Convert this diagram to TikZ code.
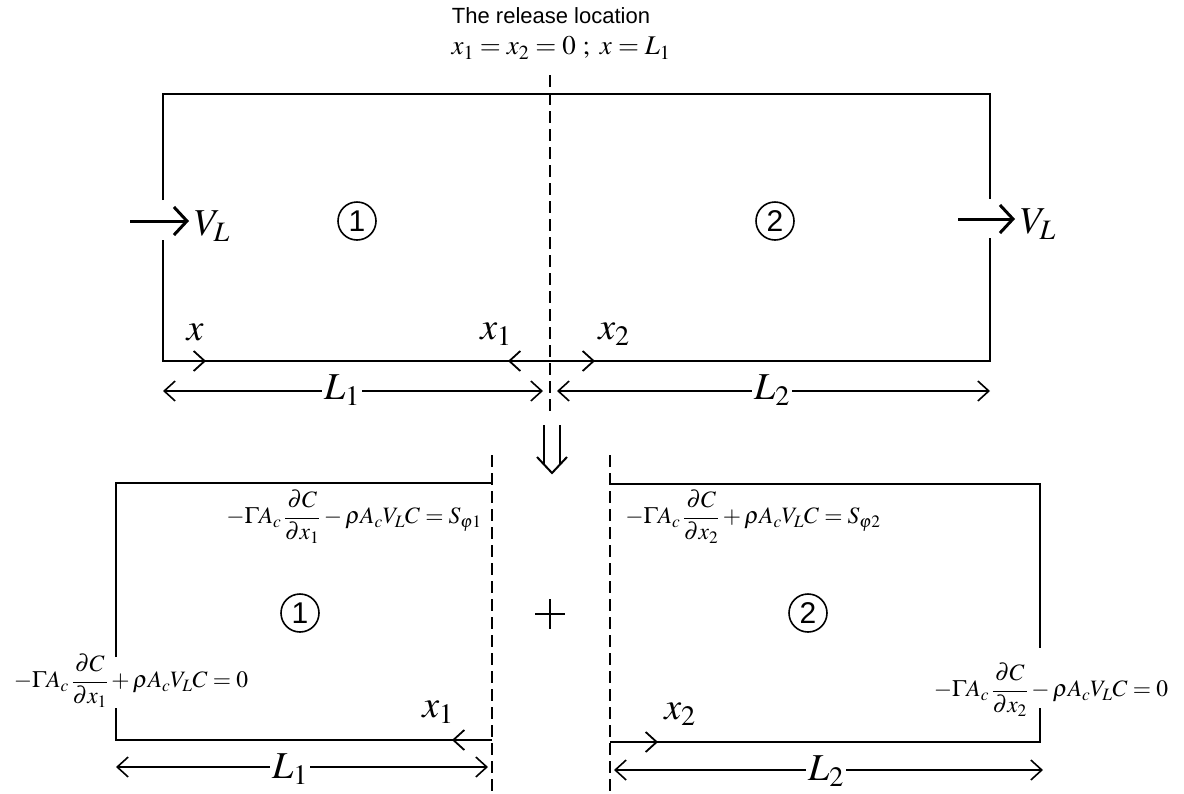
\documentclass[tikz,border=0pt]{standalone}
\usepackage{mathptmx}
\usepackage[no-math]{fontspec}
\setmainfont{Liberation Serif}
\newfontfamily\arialf{Liberation Sans}
\usetikzlibrary{arrows.meta}
\tikzset{
  box/.style={line width=1.8pt},
  dashln/.style={line width=1.5pt, dash pattern=on 12pt off 6pt},
  tipline/.style={line width=1.8pt, -{Straight Barb[length=11pt,width=20pt,line width=1.8pt]}},
  dimline/.style={line width=1.5pt, {Straight Barb[length=11pt,width=20pt,line width=1.6pt]}-{Straight Barb[length=11pt,width=20pt,line width=1.6pt]}},
  flow/.style={line width=3pt, -{Straight Barb[length=13pt,width=28pt,line width=3pt]}},
  numc/.style={circle, draw, line width=1.6pt, minimum size=38pt, inner sep=0pt, font=\arialf\fontsize{30}{32}\selectfont},
  biglab/.style={inner sep=1pt, font=\fontsize{38}{40}\selectfont},
  dimlab/.style={fill=white, inner sep=2pt, font=\fontsize{38}{40}\selectfont},
  eqlab/.style={inner sep=0pt, font=\fontsize{23.5}{26}\selectfont},
  thin2/.style={line width=2pt},
}
\begin{document}
\begin{tikzpicture}[x=1pt,y=-1pt]
\useasboundingbox (0,0) rectangle (1184,793);
% top texts
\node[font=\arialf\fontsize{22}{24}\selectfont] (title) at (551,16) {The release location};
\node[font=\fontsize{27}{29}\selectfont] (cond) at (561,48) {$x_1=x_2=0\ ;\ x=L_1$};
% top box
\coordinate (tl) at (163,94); \coordinate (tr) at (990,94);
\coordinate (bl) at (163,361); \coordinate (br) at (990,361);
\coordinate (lg1) at (163,200); \coordinate (lg2) at (163,240);
\coordinate (rg1) at (990,199); \coordinate (rg2) at (990,238);
\draw[box] (lg1) -- (tl) -- (tr) -- (rg1);
\draw[box] (lg2) -- (bl) -- (br) -- (rg2);
\coordinate (dtop) at (550,75); \coordinate (dbot) at (550,412);
\draw[dashln] (dtop) -- (dbot);
% flow arrows
\coordinate (fa1) at (130,221); \coordinate (fb1) at (189,221);
\coordinate (fa2) at (958,219); \coordinate (fb2) at (1015,219);
\draw[flow] (fa1) -- (fb1);
\draw[flow] (fa2) -- (fb2);
\node[biglab, anchor=west] (vl1) at (193,226) {$V_L$};
\node[biglab, anchor=west] (vl2) at (1019,224) {$V_L$};
\node[numc] (c1) at (357,221) {1};
\node[numc] (c2) at (775,221) {2};
% axis arrows top
\coordinate (mid) at (550,361);
\coordinate (xa) at (206,361); \coordinate (x1a) at (508,361); \coordinate (x2a) at (595,361);
\draw[tipline] (bl) -- (xa);
\draw[tipline] (mid) -- (x1a);
\draw[tipline] (mid) -- (x2a);
\node[biglab] (xl) at (195,332) {$x$};
\node[biglab] (x1l) at (496,334) {$x_1$};
\node[biglab] (x2l) at (614,334) {$x_2$};
% dimensions top
\coordinate (d1a) at (163,391); \coordinate (d1b) at (543,391);
\coordinate (d2a) at (557,391); \coordinate (d2b) at (990,391);
\draw[dimline] (d1a) -- (d1b);
\draw[dimline] (d2a) -- (d2b);
\node[dimlab] (L1t) at (342,390) {$L_1$};
\node[dimlab] (L2t) at (772,390) {$L_2$};
% down arrow (double)
\coordinate (da1) at (544,425); \coordinate (da2) at (544,465);
\coordinate (db1) at (560,425); \coordinate (db2) at (560,465);
\coordinate (dh1) at (537,457); \coordinate (dht) at (552,473); \coordinate (dh2) at (567,457);
\draw[thin2] (da1) -- (da2);
\draw[thin2] (db1) -- (db2);
\draw[thin2] (dh1) -- (dht) -- (dh2);
% lower left box
\coordinate (Ltl) at (116,483); \coordinate (Ltr) at (492,483);
\coordinate (Lbl) at (116,740); \coordinate (Lbr) at (492,740);
\coordinate (Lg1) at (116,657); \coordinate (Lg2) at (116,708);
\draw[box] (Lg1) -- (Ltl) -- (Ltr);
\draw[box] (Lg2) -- (Lbl) -- (Lbr);
\coordinate (Ldt) at (492,455); \coordinate (Ldb) at (492,793);
\draw[dashln] (Ldt) -- (Ldb);
% lower right box
\coordinate (Rtl) at (610,484); \coordinate (Rtr) at (1040,484);
\coordinate (Rbl) at (610,742); \coordinate (Rbr) at (1040,742);
\coordinate (Rg1) at (1040,648); \coordinate (Rg2) at (1040,708);
\draw[box] (Rtl) -- (Rtr) -- (Rg1);
\draw[box] (Rg2) -- (Rbr) -- (Rbl);
\coordinate (Rdt) at (610,455); \coordinate (Rdb) at (610,793);
\draw[dashln] (Rdt) -- (Rdb);
% lower axis arrows
\coordinate (lx1) at (452,740); \coordinate (lx2) at (658,742);
\draw[tipline] (Lbr) -- (lx1);
\draw[tipline] (Rbl) -- (lx2);
\node[biglab] (lx1l) at (438,712) {$x_1$};
\node[biglab] (lx2l) at (680,714) {$x_2$};
% lower dimensions
\coordinate (e1a) at (116,767); \coordinate (e1b) at (488,767);
\coordinate (e2a) at (614,770); \coordinate (e2b) at (1043,770);
\draw[dimline] (e1a) -- (e1b);
\draw[dimline] (e2a) -- (e2b);
\node[dimlab] (L1b) at (290,769) {$L_1$};
\node[dimlab] (L2b) at (826,771) {$L_2$};
% circles and plus
\node[numc] (c3) at (300,613) {1};
\node[numc] (c4) at (808,613) {2};
\coordinate (p1) at (535,614); \coordinate (p2) at (565,614);
\coordinate (p3) at (550,599); \coordinate (p4) at (550,629);
\draw[thin2] (p1) -- (p2);
\draw[thin2] (p3) -- (p4);
% equations
\node[eqlab] (eq1) at (354,517) {$\displaystyle -\Gamma A_c\,\frac{\partial C}{\partial x_1}-\rho A_c V_L C=S_{\varphi 1}$};
\node[eqlab] (eq2) at (753,517) {$\displaystyle -\Gamma A_c\,\frac{\partial C}{\partial x_2}+\rho A_c V_L C=S_{\varphi 2}$};
\node[eqlab] (eq3) at (131,681) {$\displaystyle -\Gamma A_c\,\frac{\partial C}{\partial x_1}+\rho A_c V_L C=0$};
\node[eqlab] (eq4) at (1051,690) {$\displaystyle -\Gamma A_c\,\frac{\partial C}{\partial x_2}-\rho A_c V_L C=0$};
\end{tikzpicture}
\end{document}
